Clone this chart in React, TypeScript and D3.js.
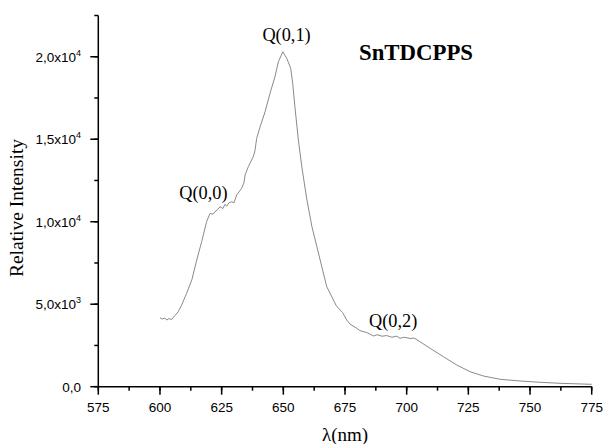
import React from 'react';
import * as d3 from 'd3';

// emission spectrum
const wavelength = [
	600, 601, 602, 602.7, 603.5, 604.8, 606, 607.4, 608.8, 610.8, 612.9, 614.9, 616.9, 618.9,
	620.3, 621.5, 622.3, 623.5, 624.3, 625.5, 626.3, 627.1, 628, 629.1, 630, 631.1, 633.1, 634,
	634.5, 635.8, 637.8, 638.5, 639.2, 640.6, 642.6, 644.6, 646.6, 648, 649.8, 651.4, 653,
	653.8, 654.7, 656.1, 657.5, 659.5, 661.6, 663.6, 665.6, 667.6, 668.5, 670.3, 671.5, 673,
	674, 675.7, 677, 679.8, 681, 683.8, 685, 686.5, 688, 690, 691.9, 694, 696, 697.3, 699,
	701.4, 703, 705.4, 709.5, 714.9, 720.3, 725.7, 731.1, 737.9, 746, 754.1, 762.2, 775,
];
const intensity = [
	4180, 4100, 4160, 4040, 4120, 4080, 4300, 4545, 4950, 5660, 6466, 7678, 8787, 9999,
	10508, 10450, 10605, 10750, 10908, 10800, 11050, 10950, 11150, 11211, 11150, 11617, 12023, 12350,
	12829, 13332, 13938, 14300, 15050, 15756, 16665, 17780, 18786, 19695, 20301, 19901, 19295,
	18386, 16968, 14950, 13332, 11375, 9696, 8484, 7272, 6060, 5800, 5254, 4900, 4648,
	4500, 4042, 3800, 3539, 3400, 3285, 3200, 3072, 3150, 3060, 3100, 3000, 3060, 2933, 3000,
	2921, 2950, 2727, 2327, 1818, 1315, 909, 648, 448, 345, 267, 206, 145,
];

const xTicks = [575, 600, 625, 650, 675, 700, 725, 750, 775];
const yTicks = [0, 5000, 10000, 15000, 20000];
const yTickBase = ['0,0', '5,0x10', '1,0x10', '1,5x10', '2,0x10'];
const yTickExp = ['', '3', '4', '4', '4'];

const peakLabels = ['Q(0,0)', 'Q(0,1)', 'Q(0,2)'];
const peakAt = [617.6, 651.3, 694.5];
const peakValue = [11375, 20950, 3620];

const W = 604, H = 444;
const x = d3.scaleLinear().domain([575, 775]).range([98.3, 591.7]);
const y = d3.scaleLinear().domain([0, 22500]).range([386.7, 15.5]);

const sans = '"Liberation Sans", Arial, sans-serif';
const serif = '"Liberation Serif", "Times New Roman", serif';

const App = () => {
	const pts = wavelength.map((w, i) => [w, intensity[i]]);
	const line = d3.line().x(d => x(d[0])).y(d => y(d[1]));
	const xMinor = d3.range(575, 775.1, 12.5);
	const yMinor = d3.range(0, 22501, 2500);

	return (
		<svg width={W} height={H} style={{ position: 'absolute', left: 0, top: 0, background: '#fff' }}>
			<path d={line(pts)} fill='none' stroke='#8a8a8a' strokeWidth={1} />

			{/* axes */}
			<g stroke='#000' strokeWidth={1.5}>
				<line x1={x(575)} x2={x(575)} y1={y(22500)} y2={y(0)} />
				<line x1={x(575)} x2={x(775)} y1={y(0)} y2={y(0)} />
				{yMinor.map(v => <line key={'ym' + v} x1={x(575) - 4} x2={x(575)} y1={y(v)} y2={y(v)} />)}
				{yTicks.map(v => <line key={'yt' + v} x1={x(575) - 8} x2={x(575)} y1={y(v)} y2={y(v)} />)}
				{xMinor.map(v => <line key={'xm' + v} x1={x(v)} x2={x(v)} y1={y(0)} y2={y(0) + 4} />)}
				{xTicks.map(v => <line key={'xt' + v} x1={x(v)} x2={x(v)} y1={y(0)} y2={y(0) + 8} />)}
			</g>

			{yTicks.map((v, i) => (
				<text key={'yl' + v} x={81} y={y(v) + 5} textAnchor='end' fontFamily={sans} fontSize={13.5}>
					{yTickBase[i]}
					{yTickExp[i] && <tspan fontSize={9} dy={-6}>{yTickExp[i]}</tspan>}
				</text>
			))}
			{xTicks.map(v => (
				<text key={'xl' + v} x={x(v)} y={412} textAnchor='middle' fontFamily={sans} fontSize={13.5}>{v}</text>
			))}

			<text x={345} y={441} textAnchor='middle' fontFamily={serif} fontSize={19}>λ(nm)</text>
			<text transform='translate(23 208) rotate(-90)' textAnchor='middle' fontFamily={serif} fontSize={19.5}>Relative Intensity</text>

			{peakLabels.map((t, i) => (
				<text key={t} x={x(peakAt[i])} y={y(peakValue[i])} textAnchor='middle' fontFamily={serif} fontSize={18.3}>{t}</text>
			))}
			<text x={359} y={60} fontFamily={serif} fontWeight='bold' fontSize={22.8}>SnTDCPPS</text>
		</svg>
	);
};

export default App;
